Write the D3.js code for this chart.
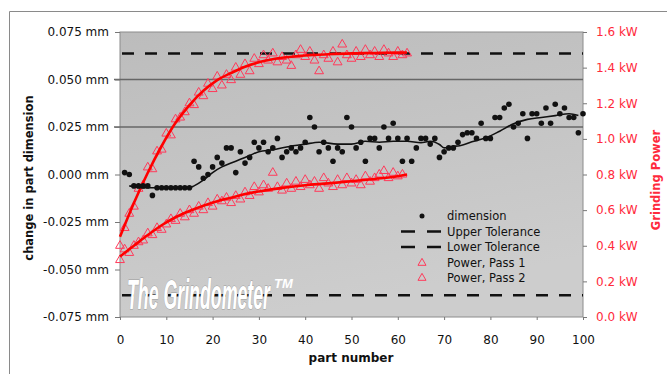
<!DOCTYPE html>
<html lang="en">
<head>
<meta charset="UTF-8">
<title>The Grindometer</title>
<script src="https://d3js.org/d3.v7.min.js"></script>
<style>
  body { margin: 0; background: #fff; }
  svg text { font-family: "DejaVu Sans", Verdana, sans-serif; }
</style>
</head>
<body>
<div id="chart"></div>
<script>
// dimension change per part (mm), parts 1..100
const dimension = [
  0.001, 0.000, -0.006, -0.006, -0.006, -0.006, -0.011, -0.007, -0.007, -0.007,
  -0.007, -0.007, -0.007, -0.007, -0.007, 0.007, 0.004, -0.002, 0.000, 0.004,
  0.009, 0.006, 0.014, 0.014, 0.001, 0.012, 0.006, 0.009, 0.017, 0.014,
  0.017, 0.012, 0.014, 0.019, 0.009, 0.012, 0.014, 0.012, 0.014, 0.017,
  0.030, 0.025, 0.012, 0.017, 0.014, 0.007, 0.014, 0.012, 0.030, 0.025,
  0.014, 0.017, 0.007, 0.019, 0.019, 0.014, 0.025, 0.019, 0.027, 0.019,
  0.007, 0.019, 0.007, 0.014, 0.019, 0.019, 0.016, 0.019, 0.009, 0.012,
  0.014, 0.014, 0.017, 0.021, 0.022, 0.022, 0.019, 0.027, 0.019, 0.019,
  0.030, 0.030, 0.035, 0.037, 0.025, 0.027, 0.032, 0.019, 0.032, 0.032,
  0.027, 0.035, 0.027, 0.037, 0.032, 0.035, 0.030, 0.030, 0.022, 0.032
];

// smoothed dimension trend as drawn in the chart
const trendParts = [2, 5, 10, 15, 16, 18, 20, 22, 24, 26, 28, 30, 33, 36, 40, 43, 47, 50, 53, 56, 59, 62, 65, 67, 69, 70, 72, 73, 76, 79, 82, 85, 88, 91, 94, 97, 99];
const trendValues = [-0.006, -0.007, -0.007, -0.007, -0.006, -0.003, 0.001, 0.004, 0.006, 0.008, 0.010, 0.012, 0.013, 0.0145, 0.016, 0.017, 0.016, 0.016, 0.0175, 0.017, 0.0175, 0.0175, 0.0167, 0.0175, 0.0158, 0.014, 0.0149, 0.015, 0.0172, 0.0193, 0.0228, 0.0267, 0.029, 0.030, 0.031, 0.032, 0.031];

// grinding power (kW), pass 1 parts 0..62, pass 2 parts 0..61
const powerPass1 = [
  0.40, 0.50, 0.58, 0.62, 0.72, 0.74, 0.84, 0.83, 0.93, 0.94,
  1.03, 1.02, 1.11, 1.12, 1.15, 1.20, 1.19, 1.26, 1.24, 1.31,
  1.28, 1.35, 1.30, 1.36, 1.33, 1.40, 1.36, 1.42, 1.38, 1.45,
  1.42, 1.47, 1.44, 1.48, 1.43, 1.46, 1.44, 1.41, 1.47, 1.50,
  1.46, 1.49, 1.44, 1.38, 1.47, 1.45, 1.49, 1.43, 1.53, 1.47,
  1.45, 1.49, 1.46, 1.50, 1.47, 1.49, 1.46, 1.50, 1.48, 1.46,
  1.49, 1.47, 1.48
];
const powerPass2 = [
  0.32, 0.38, 0.36, 0.40, 0.42, 0.43, 0.47, 0.46, 0.50, 0.49,
  0.52, 0.55, 0.54, 0.58, 0.56, 0.60, 0.58, 0.62, 0.60, 0.64,
  0.62, 0.66, 0.65, 0.67, 0.64, 0.68, 0.66, 0.70, 0.68, 0.73,
  0.70, 0.74, 0.72, 0.81, 0.73, 0.71, 0.75, 0.72, 0.76, 0.73,
  0.77, 0.74, 0.76, 0.72, 0.78, 0.75, 0.73, 0.77, 0.74, 0.78,
  0.75, 0.77, 0.74, 0.79, 0.76, 0.78, 0.80, 0.82, 0.78, 0.81,
  0.79, 0.80
];

// fitted power curves
const fitParts = [0, 3, 6, 9, 12, 15, 18, 21, 24, 27, 30, 35, 40, 45, 50, 55, 60, 62];
const fitPass1 = [0.45, 0.64, 0.81, 0.96, 1.09, 1.19, 1.27, 1.33, 1.37, 1.405, 1.43, 1.455, 1.468, 1.475, 1.48, 1.482, 1.484, 1.485];
const fitPass2 = [0.34, 0.40, 0.46, 0.515, 0.56, 0.595, 0.625, 0.65, 0.67, 0.69, 0.705, 0.725, 0.74, 0.75, 0.762, 0.775, 0.79, 0.80];

const upperTol = 0.0637, lowerTol = -0.0635;
const leftTicks = [-0.075, -0.050, -0.025, 0, 0.025, 0.050, 0.075];
const gridTicks = [0.025, 0.050];
const rightTicks = [0, 0.2, 0.4, 0.6, 0.8, 1.0, 1.2, 1.4, 1.6];
const xTicks = [0, 10, 20, 30, 40, 50, 60, 70, 80, 90, 100];
const legendItems = ["dimension", "Upper Tolerance", "Lower Tolerance", "Power, Pass 1", "Power, Pass 2"];

const width = 667, height = 374;
const red = "#ff0000", pink = "#ff3a5a", labelRed = "#ff2a3c";

const svg = d3.select("#chart").append("svg")
  .attr("width", width).attr("height", height);

// outer frame (top + left)
svg.append("path").attr("d", "M9.5,374 V11.5 H667")
  .attr("fill", "none").attr("stroke", "#8a8a8a");

const x = d3.scaleLinear().domain([0, 100]).range([120, 583]);
const yL = d3.scaleLinear().domain([-0.075, 0.075]).range([317, 32]);
const yR = d3.scaleLinear().domain([0, 1.6]).range([317, 32]);

const grad = svg.append("defs").append("linearGradient")
  .attr("id", "bg").attr("x1", 0).attr("y1", 0).attr("x2", 0.3).attr("y2", 1);
grad.append("stop").attr("offset", 0).attr("stop-color", "#bcbcbc");
grad.append("stop").attr("offset", 1).attr("stop-color", "#cdcdcd");

svg.append("rect")
  .attr("x", x(0)).attr("y", yL(0.075))
  .attr("width", x(100) - x(0)).attr("height", yL(-0.075) - yL(0.075))
  .attr("fill", "url(#bg)").attr("stroke", "#8c8c8c");

// gridlines
svg.append("g").selectAll("line").data(gridTicks).join("line")
  .attr("x1", x(0) - 6).attr("x2", x(100))
  .attr("y1", d => yL(d)).attr("y2", d => yL(d))
  .attr("stroke", "#666").attr("stroke-width", 1.3);

// axes
const fmtMM = d => d3.format(".3f")(d).replace("\u2212", "-") + " mm";
const gL = svg.append("g").attr("transform", `translate(${x(0)},0)`)
  .call(d3.axisLeft(yL).tickValues(leftTicks).tickFormat(fmtMM).tickSize(5).tickPadding(6));
gL.selectAll("text").attr("fill", "#111").style("font-size", "12px");

const gR = svg.append("g").attr("transform", `translate(${x(100)},0)`)
  .call(d3.axisRight(yR).tickValues(rightTicks).tickFormat(d => d3.format(".1f")(d) + " kW").tickSize(4).tickPadding(9));
gR.selectAll("text").attr("fill", labelRed).style("font-size", "12px");

const gB = svg.append("g").attr("transform", `translate(0,${yL(-0.075)})`)
  .call(d3.axisBottom(x).tickValues(xTicks).tickSize(3).tickPadding(15));
gB.selectAll("text").attr("fill", "#111").style("font-size", "12px");

[gL, gR, gB].forEach(g => {
  g.select(".domain").remove();
  g.selectAll(".tick line").attr("stroke", "#777");
});

// axis titles
svg.append("text")
  .attr("transform", "translate(33,178) rotate(-90)")
  .attr("text-anchor", "middle").attr("font-weight", "bold")
  .style("font-size", "11.5px").attr("fill", "#111")
  .text("change in part dimension");

svg.append("text")
  .attr("transform", "translate(660,180) rotate(-90)")
  .attr("text-anchor", "middle").attr("font-weight", "bold")
  .style("font-size", "11.5px").attr("fill", labelRed)
  .text("Grinding Power");

svg.append("text")
  .attr("x", 351).attr("y", 362)
  .attr("text-anchor", "middle").attr("font-weight", "bold")
  .style("font-size", "12px").attr("fill", "#111")
  .text("part number");

// tolerance lines
svg.append("g").selectAll("line").data([upperTol, lowerTol]).join("line")
  .attr("x1", x(0) + 2).attr("x2", x(100))
  .attr("y1", d => yL(d)).attr("y2", d => yL(d))
  .attr("stroke", "#111").attr("stroke-width", 2.5)
  .attr("stroke-dasharray", "12,11");

// watermark (drawn over the lower tolerance line), squeezed to width
const wmFont = "'Liberation Sans Narrow', 'Liberation Sans', sans-serif";
const wmText = svg.append("text")
  .style("font-family", wmFont)
  .attr("font-weight", "bold").attr("font-style", "italic")
  .attr("fill", "#fff").style("font-size", "42px")
  .style("paint-order", "stroke").attr("stroke", "#9a9a9a").attr("stroke-width", 1)
  .text("The Grindometer");
const wmLen = wmText.node().getComputedTextLength();
wmText.attr("transform", `translate(127,309) scale(${143 / wmLen},1)`);
svg.append("text")
  .style("font-family", wmFont)
  .attr("font-weight", "bold").attr("font-style", "italic")
  .attr("x", 274).attr("y", 288).attr("fill", "#fff")
  .style("font-size", "13px").text("TM");

// power triangles
const tri = d3.symbol().type(d3.symbolTriangle).size(34);
function triangles(data, cls) {
  svg.append("g").attr("class", cls).selectAll("path").data(data).join("path")
    .attr("d", tri)
    .attr("transform", (d, i) => `translate(${x(i)},${yR(d)})`)
    .attr("fill", "none").attr("stroke", pink).attr("stroke-width", 1);
}
triangles(powerPass1, "p1");
triangles(powerPass2, "p2");

// fitted power curves
const fitLine = vals => d3.line()
  .x((d, i) => x(fitParts[i])).y(d => yR(d))
  .curve(d3.curveMonotoneX)(vals);
[fitPass1, fitPass2].forEach(v => {
  svg.append("path").attr("d", fitLine(v))
    .attr("fill", "none").attr("stroke", red).attr("stroke-width", 2.6);
});

// dimension points and trend
svg.append("g").selectAll("circle").data(dimension).join("circle")
  .attr("cx", (d, i) => x(i + 1)).attr("cy", d => yL(d))
  .attr("r", 2.8).attr("fill", "#111");

svg.append("path")
  .attr("d", d3.line().x((d, i) => x(trendParts[i])).y(d => yL(d)).curve(d3.curveMonotoneX)(trendValues))
  .attr("fill", "none").attr("stroke", "#111").attr("stroke-width", 1.6);

// legend
const lg = svg.append("g");
const rowY = [216, 231.5, 247, 263, 278];
lg.selectAll("text").data(legendItems).join("text")
  .attr("x", 447).attr("y", (d, i) => rowY[i]).attr("dy", "0.35em")
  .style("font-size", "11.5px").attr("fill", "#111")
  .text(d => d);
lg.append("circle").attr("cx", 422).attr("cy", rowY[0]).attr("r", 2.5).attr("fill", "#111");
[rowY[1], rowY[2]].forEach(yy => {
  lg.append("line").attr("x1", 401).attr("x2", 441).attr("y1", yy).attr("y2", yy)
    .attr("stroke", "#111").attr("stroke-width", 2.5).attr("stroke-dasharray", "14,12");
});
[rowY[3], rowY[4]].forEach(yy => {
  lg.append("path").attr("d", d3.symbol().type(d3.symbolTriangle).size(28))
    .attr("transform", `translate(422,${yy})`)
    .attr("fill", "none").attr("stroke", pink).attr("stroke-width", 1);
});
</script>
</body>
</html>
